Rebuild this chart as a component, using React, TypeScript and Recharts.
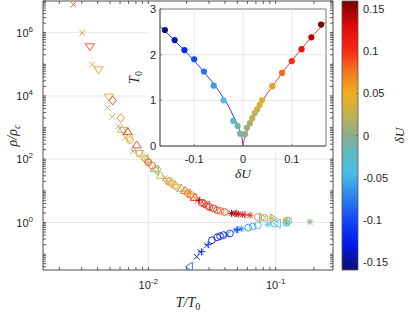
import React from 'react';
import {
  ScatterChart, Scatter, XAxis, YAxis, ReferenceLine, ReferenceArea,
  ComposedChart, Line,
} from 'recharts';

const SANS = '"Liberation Sans", Arial, Helvetica, sans-serif';
const SERIF = '"Liberation Serif", "Times New Roman", serif';
const AX = '#3a3a3a';
const GRID = '#e2e2e2';
const TXT = '#262626';

// ---- colour map for δU ----
const cmapStops = [-0.16, -0.13, -0.1, -0.07, -0.045, -0.02, 0, 0.02, 0.04, 0.05, 0.065, 0.08, 0.1, 0.13, 0.16];
const cmapColors = ['#10106e', '#0018ea', '#1448f8', '#2e88e8', '#48bee8', '#60b8c0', '#8aad8f', '#b8b060', '#e0b030', '#ecb020', '#f09020', '#f46a1e', '#fa2a14', '#e00a0a', '#7a0000'];

// ---- main plot data: [T/T0, rho/rho_c, δU] per marker type ----
const crossPts = [
  [0.00258, 7.7e6, 0.085], [0.00303, 9.8e5, 0.068], [0.00363, 9.8e4, 0.052],
  [0.00478, 4.3e3, 0.022], [0.00521, 2.2e3, 0.018], [0.00582, 1.1e3, 0.014],
  [0.0066, 480, 0.01], [0.0076, 180, 0.006], [0.0135, 25, 0.004], [0.0185, 11, 0.04],
  [0.0245, 5.0, 0.12], [0.0275, 3.8, 0.1],
  [0.024, 0.083, -0.13], [0.0257, 0.117, -0.12], [0.0288, 0.19, -0.115], [0.0415, 0.42, -0.12],
];
const triDownPts = [
  [0.00348, 3.7e5, 0.09], [0.00407, 6.9e4, 0.062], [0.0049, 9.5e3, 0.042],
  [0.0064, 830, 0.03], [0.0085, 160, 0.01], [0.014, 21, 0.065],
  [0.0151, 17, 0.058], [0.0168, 13, 0.035], [0.0224, 6.6, 0.05],
];
const triUpPts = [
  [0.0062, 850, 0.025], [0.0069, 720, 0.1], [0.0081, 275, 0.095], [0.0112, 50, 0.005],
  [0.0125, 30, 0.03], [0.0182, 11.7, 0.012], [0.0195, 10, 0.08], [0.0232, 6.0, 0.1],
];
const triLeftPts = [
  [0.0212, 0.04, -0.085], [0.0204, 8.1, 0.065], [0.0288, 3.4, 0.11], [0.0115, 44, 0.01],
  [0.0095, 100, 0.01], [0.104, 0.93, -0.04],
];
const triRightPts = [
  [0.095, 1.33, -0.035], [0.078, 1.42, -0.02],
];
const diamondPts = [
  [0.00525, 7.2e3, 0.09], [0.00607, 2.0e3, 0.07], [0.0071, 470, 0.05],
  [0.0094, 105, 0.05], [0.0098, 92, 0.035], [0.0118, 48, 0.02], [0.0145, 20, 0.01],
  [0.0155, 17.5, 0.04], [0.0204, 8.4, 0.07], [0.0275, 3.9, 0.11],
];
const circlePts = [
  [0.0072, 400, 0.045], [0.0085, 150, 0.04], [0.01, 80, 0.09], [0.0107, 64, 0.08], [0.0162, 14.5, 0.06],
  [0.0215, 7.5, 0.075], [0.0263, 4.2, 0.1], [0.0302, 3.1, 0.11], [0.0325, 2.8, 0.12],
  [0.0347, 2.45, 0.1], [0.037, 2.3, 0.08], [0.0398, 2.14, 0.09],
  [0.0724, 1.5, 0.07], [0.082, 1.4, 0.07], [0.122, 1.17, 0.04], [0.126, 1.12, -0.035],
  [0.0316, 0.275, -0.14], [0.0347, 0.34, -0.135], [0.0366, 0.37, -0.13], [0.0389, 0.4, -0.125], [0.0437, 0.45, -0.11],
  [0.061, 0.69, -0.065], [0.066, 0.75, -0.06], [0.0724, 0.82, -0.05], [0.098, 0.92, -0.045], [0.121, 0.98, -0.04],
];
const asteriskPts = [
  [0.045, 1.95, 0.155], [0.0479, 1.9, 0.15], [0.051, 1.85, 0.14], [0.055, 1.78, 0.12], [0.063, 1.7, 0.11],
  [0.0933, 1.35, 0.045], [0.12, 1.15, 0.045], [0.186, 1.05, 0.0],
  [0.049, 0.575, -0.09], [0.0537, 0.63, -0.08], [0.087, 0.88, -0.045], [0.122, 0.975, -0.04],
];
const plusPts = [
  [0.0251, 5.1, 0.15], [0.049, 1.95, 0.13], [0.0575, 1.75, 0.12],
  [0.0262, 0.12, -0.13], [0.0295, 0.2, -0.12], [0.05, 0.6, -0.1],
];

// ---- inset data ----
const insetU = [-0.16, -0.14, -0.12, -0.1, -0.08, -0.06, -0.04, -0.02, -0.011, -0.006, 0.004, 0.008, 0.014, 0.019, 0.024, 0.029, 0.034, 0.039, 0.06, 0.08, 0.1, 0.12, 0.14, 0.16];
const insetT0 = [2.54, 2.32, 2.1, 1.9, 1.63, 1.32, 1.0, 0.55, 0.44, 0.27, 0.26, 0.4, 0.5, 0.61, 0.72, 0.8, 0.9, 1.0, 1.31, 1.6, 1.86, 2.12, 2.38, 2.66];
const fitNegU = [-0.17, -0.16, -0.14, -0.12, -0.1, -0.08, -0.06, -0.04, -0.03, -0.02, -0.01, -0.005, -0.002, 0];
const fitNegT = [2.62, 2.52, 2.31, 2.09, 1.87, 1.62, 1.36, 1.05, 0.88, 0.66, 0.43, 0.29, 0.17, 0];
const fitPosU = [0, 0.002, 0.005, 0.01, 0.02, 0.03, 0.04, 0.06, 0.08, 0.1, 0.12, 0.14, 0.17];
const fitPosT = [0, 0.12, 0.22, 0.36, 0.6, 0.8, 0.99, 1.3, 1.6, 1.87, 2.13, 2.38, 2.72];

// ---- axes ----
const X_DOMAIN = [0.00149, 0.282];
const Y_DOMAIN = [0.0316, 1e7];
const xMajor = [0.01, 0.1];
const yMajor = [1, 100, 1e4, 1e6];
const insetXTicks = [-0.1, 0, 0.1];
const insetYTicks = [0, 1, 2, 3];
const cbTicks = [-0.15, -0.1, -0.05, 0, 0.05, 0.1, 0.15];
const CB_DOMAIN = [-0.16, 0.16];

function logTicks(lo: number, hi: number) {
  const out: number[] = [];
  for (let d = -4; d <= 8; d++) {
    for (let k = 1; k <= 9; k++) {
      const v = k * Math.pow(10, d);
      if (v >= lo * 0.9999 && v <= hi * 1.0001) out.push(v);
    }
  }
  return out;
}
const xTicksAll = logTicks(X_DOMAIN[0], X_DOMAIN[1]);
const yTicksAll = logTicks(Y_DOMAIN[0], Y_DOMAIN[1]);
const isIn = (list: number[], v: number) => list.some((m) => Math.abs(m - v) / Math.abs(m) < 1e-6);

function hexToRgb(h: string) {
  return [parseInt(h.slice(1, 3), 16), parseInt(h.slice(3, 5), 16), parseInt(h.slice(5, 7), 16)];
}
function colorOf(u: number) {
  if (u <= cmapStops[0]) return cmapColors[0];
  for (let i = 1; i < cmapStops.length; i++) {
    if (u <= cmapStops[i]) {
      const t = (u - cmapStops[i - 1]) / (cmapStops[i] - cmapStops[i - 1]);
      const a = hexToRgb(cmapColors[i - 1]);
      const b = hexToRgb(cmapColors[i]);
      const c = a.map((v, k) => Math.round(v + (b[k] - v) * t));
      return `rgb(${c[0]},${c[1]},${c[2]})`;
    }
  }
  return cmapColors[cmapColors.length - 1];
}

const toObjs = (pts: number[][]) => pts.map(([x, y, u]) => ({ x, y, u }));

function Marker({ kind, cx, cy, color }: any) {
  const sw = 0.9;
  const common = { stroke: color, strokeWidth: sw, fill: 'none' };
  if (cx == null || cy == null) return <g />;
  switch (kind) {
    case 'x': {
      const a = 2.9;
      return <path d={`M${cx - a},${cy - a}L${cx + a},${cy + a}M${cx - a},${cy + a}L${cx + a},${cy - a}`} {...common} />;
    }
    case '+': {
      const a = 3.6;
      return <path d={`M${cx - a},${cy}L${cx + a},${cy}M${cx},${cy - a}L${cx},${cy + a}`} {...common} />;
    }
    case '*': {
      const a = 3.4, b = 2.6;
      return <path d={`M${cx - a},${cy}L${cx + a},${cy}M${cx},${cy - a}L${cx},${cy + a}M${cx - b},${cy - b}L${cx + b},${cy + b}M${cx - b},${cy + b}L${cx + b},${cy - b}`} {...common} />;
    }
    case 'o':
      return <circle cx={cx} cy={cy} r={3.4} {...common} />;
    case 'd': {
      const h = 4.4, w = 3.6;
      return <path d={`M${cx},${cy - h}L${cx + w},${cy}L${cx},${cy + h}L${cx - w},${cy}Z`} {...common} />;
    }
    case 'tv': {
      const r = 4.6;
      return <path d={`M${cx - r},${cy - r * 0.55}L${cx + r},${cy - r * 0.55}L${cx},${cy + r * 0.95}Z`} {...common} />;
    }
    case 'tu': {
      const r = 4.6;
      return <path d={`M${cx - r},${cy + r * 0.55}L${cx + r},${cy + r * 0.55}L${cx},${cy - r * 0.95}Z`} {...common} />;
    }
    case 'tl': {
      const r = 4.6;
      return <path d={`M${cx + r * 0.55},${cy - r}L${cx + r * 0.55},${cy + r}L${cx - r * 0.95},${cy}Z`} {...common} />;
    }
    case 'tr': {
      const r = 4.6;
      return <path d={`M${cx - r * 0.55},${cy - r}L${cx - r * 0.55},${cy + r}L${cx + r * 0.95},${cy}Z`} {...common} />;
    }
    default:
      return <g />;
  }
}

const series = [
  { kind: 'x', pts: crossPts },
  { kind: 'tv', pts: triDownPts },
  { kind: 'tu', pts: triUpPts },
  { kind: 'tl', pts: triLeftPts },
  { kind: 'tr', pts: triRightPts },
  { kind: 'd', pts: diamondPts },
  { kind: 'o', pts: circlePts },
  { kind: '*', pts: asteriskPts },
  { kind: '+', pts: plusPts },
];

// ---- tick renderers ----
const TICK = 3;
const XTickBottom = (p: any) => {
  const { x, y, payload } = p;
  const v = payload.value;
  const major = isIn(xMajor, v);
  return (
    <g>
      <line x1={x} y1={y} x2={x} y2={y - TICK} stroke={AX} strokeWidth={0.8} />
      {major && (
        <text x={x} y={y + 19} textAnchor="middle" fontSize={11} fontFamily={SANS} fill={TXT}>
          <tspan>10</tspan>
          <tspan dy={-5} fontSize={8}>{String(Math.round(Math.log10(v)))}</tspan>
        </text>
      )}
    </g>
  );
};
const XTickTop = (p: any) => {
  const { x, y } = p;
  return <line x1={x} y1={y} x2={x} y2={y + TICK} stroke={AX} strokeWidth={0.8} />;
};
const YTickLeft = (p: any) => {
  const { x, y, payload } = p;
  const v = payload.value;
  const major = isIn(yMajor, v);
  return (
    <g>
      <line x1={x} y1={y} x2={x + TICK} y2={y} stroke={AX} strokeWidth={0.8} />
      {major && (
        <text x={x - 10} y={y + 4} textAnchor="end" fontSize={11} fontFamily={SANS} fill={TXT}>
          <tspan>10</tspan>
          <tspan dy={-5} fontSize={8}>{String(Math.round(Math.log10(v)))}</tspan>
        </text>
      )}
    </g>
  );
};
const YTickRight = (p: any) => {
  const { x, y } = p;
  return <line x1={x} y1={y} x2={x - TICK} y2={y} stroke={AX} strokeWidth={0.8} />;
};

const MainXLabel = (p: any) => {
  const vb = p.viewBox || { x: 0, y: 0, width: 0, height: 0 };
  return (
    <text x={vb.x + vb.width / 2} y={vb.y + 37} textAnchor="middle" fontSize={14} fontFamily={SERIF} fontStyle="italic" fill={TXT}>
      <tspan>T/T</tspan>
      <tspan dy={3} fontSize={10} fontStyle="normal">0</tspan>
    </text>
  );
};
const MainYLabel = (p: any) => {
  const vb = p.viewBox || { x: 0, y: 0, width: 0, height: 0 };
  const cx = vb.x + 9;
  const cy = vb.y + vb.height / 2;
  return (
    <text x={cx} y={cy} transform={`rotate(-90 ${cx} ${cy})`} textAnchor="middle" fontSize={14} fontFamily={SERIF} fontStyle="italic" fill={TXT}>
      <tspan>ρ/ρ</tspan>
      <tspan dy={3} fontSize={10}>c</tspan>
    </text>
  );
};

// inset ticks
const InsetXTick = (p: any) => {
  const { x, y, payload } = p;
  return (
    <g>
      <line x1={x} y1={y} x2={x} y2={y - 2} stroke="#666" strokeWidth={0.8} />
      <text x={x} y={y + 17} textAnchor="middle" fontSize={11} fontFamily={SANS} fill={TXT}>{String(payload.value)}</text>
    </g>
  );
};
const InsetYTick = (p: any) => {
  const { x, y, payload } = p;
  return (
    <g>
      <line x1={x} y1={y} x2={x + 2} y2={y} stroke="#666" strokeWidth={0.8} />
      <text x={x - 4} y={y + 4} textAnchor="end" fontSize={11} fontFamily={SANS} fill={TXT}>{String(payload.value)}</text>
    </g>
  );
};
const InsetXLabel = (p: any) => {
  const vb = p.viewBox || { x: 0, y: 0, width: 0, height: 0 };
  return (
    <text x={vb.x + vb.width / 2} y={vb.y + 32} textAnchor="middle" fontSize={13.5} fontFamily={SERIF} fontStyle="italic" fill={TXT}>δU</text>
  );
};
const InsetYLabel = (p: any) => {
  const vb = p.viewBox || { x: 0, y: 0, width: 0, height: 0 };
  const cx = vb.x + vb.width - 21;
  const cy = vb.y + vb.height / 2;
  return (
    <text x={cx} y={cy} transform={`rotate(-90 ${cx} ${cy})`} textAnchor="middle" fontSize={14} fontFamily={SERIF} fontStyle="italic" fill={TXT}>
      <tspan>T</tspan>
      <tspan dy={3} fontSize={10} fontStyle="normal">0</tspan>
    </text>
  );
};

// colorbar ticks
const CbTick = (p: any) => {
  const { x, y, payload } = p;
  return (
    <g>
      <line x1={x} y1={y} x2={x - 2} y2={y} stroke="#555" strokeWidth={0.7} />
      <text x={x + 5} y={y + 4} textAnchor="start" fontSize={11} fontFamily={SANS} fill={TXT}>{String(payload.value)}</text>
    </g>
  );
};
const CbLabel = (p: any) => {
  const vb = p.viewBox || { x: 0, y: 0, width: 0, height: 0 };
  const cx = vb.x + 46;
  const cy = vb.y + vb.height / 2;
  return (
    <text x={cx} y={cy} transform={`rotate(-90 ${cx} ${cy})`} textAnchor="middle" fontSize={13.5} fontFamily={SERIF} fontStyle="italic" fill={TXT}>δU</text>
  );
};

const insetPts = insetU.map((u, i) => ({ u, t: insetT0[i] }));
const fitNeg = fitNegU.map((u, i) => ({ u, t: fitNegT[i] }));
const fitPos = fitPosU.map((u, i) => ({ u, t: fitPosT[i] }));
const cbData = CB_DOMAIN.map((v) => ({ a: 0.5, v }));

export default function App() {
  return (
    <div style={{ position: 'fixed', left: 0, top: 0, width: 415, height: 312, background: '#fff', overflow: 'hidden' }}>
      {/* main chart */}
      <div style={{ position: 'absolute', left: 0, top: 0 }}>
        <ScatterChart width={415} height={312} margin={{ top: 0, right: 81, bottom: 12, left: 8 }}>
          <XAxis xAxisId="b" dataKey="x" type="number" scale="log" domain={X_DOMAIN} allowDataOverflow
            ticks={xTicksAll} interval={0} tickSize={0} tickMargin={0} tickLine={false}
            tick={<XTickBottom />} height={30} axisLine={{ stroke: AX, strokeWidth: 0.9 }} label={<MainXLabel />} />
          <XAxis xAxisId="t" orientation="top" dataKey="x" type="number" scale="log" domain={X_DOMAIN} allowDataOverflow
            ticks={xTicksAll} interval={0} tickSize={0} tickMargin={0} tickLine={false}
            tick={<XTickTop />} height={1} axisLine={{ stroke: AX, strokeWidth: 0.9 }} />
          <YAxis yAxisId="l" dataKey="y" type="number" scale="log" domain={Y_DOMAIN} allowDataOverflow
            ticks={yTicksAll} interval={0} tickSize={0} tickMargin={0} tickLine={false}
            tick={<YTickLeft />} width={35} axisLine={{ stroke: AX, strokeWidth: 0.9 }} label={<MainYLabel />} />
          <YAxis yAxisId="r" orientation="right" dataKey="y" type="number" scale="log" domain={Y_DOMAIN} allowDataOverflow
            ticks={yTicksAll} interval={0} tickSize={0} tickMargin={0} tickLine={false}
            tick={<YTickRight />} width={1} axisLine={{ stroke: AX, strokeWidth: 0.9 }} />
          {xMajor.map((v) => (
            <ReferenceLine key={'gx' + v} xAxisId="b" yAxisId="l" x={v} stroke={GRID} strokeWidth={0.8} />
          ))}
          {yMajor.map((v) => (
            <ReferenceLine key={'gy' + v} xAxisId="b" yAxisId="l" y={v} stroke={GRID} strokeWidth={0.8} />
          ))}
          {series.map((s) => (
            <Scatter key={s.kind} xAxisId="b" yAxisId="l" data={toObjs(s.pts)} isAnimationActive={false}
              shape={(p: any) => <Marker kind={s.kind} cx={p.cx} cy={p.cy} color={colorOf(p.payload ? p.payload.u : 0)} />} />
          ))}
        </ScatterChart>
      </div>

      {/* white patch behind inset */}
      <div style={{ position: 'absolute', left: 147, top: 4, width: 180, height: 148, background: '#fff' }} />

      {/* inset */}
      <div style={{ position: 'absolute', left: 110, top: 0 }}>
        <ComposedChart width={230} height={190} margin={{ top: 9, right: 14, bottom: 19, left: 20 }}>
          <XAxis dataKey="u" type="number" domain={[-0.17, 0.17]} allowDataOverflow ticks={insetXTicks} interval={0}
            tickSize={0} tickMargin={0} tickLine={false} tick={<InsetXTick />} height={25}
            axisLine={{ stroke: '#666', strokeWidth: 0.9 }} label={<InsetXLabel />} />
          <YAxis dataKey="t" type="number" domain={[0, 3]} allowDataOverflow ticks={insetYTicks} interval={0}
            tickSize={0} tickMargin={0} tickLine={false} tick={<InsetYTick />} width={30}
            axisLine={{ stroke: '#666', strokeWidth: 0.9 }} label={<InsetYLabel />} />
          {insetXTicks.map((v) => (
            <ReferenceLine key={'ix' + v} x={v} stroke={GRID} strokeWidth={0.8} />
          ))}
          {[1, 2].map((v) => (
            <ReferenceLine key={'iy' + v} y={v} stroke={GRID} strokeWidth={0.8} />
          ))}
          <ReferenceArea x1={-0.17} x2={0.17} y1={0} y2={3} fill="none" stroke="#666" strokeWidth={0.9} ifOverflow="visible" />
          <Line data={fitNeg} dataKey="t" type="monotone" stroke="#1f3cff" strokeWidth={1} dot={false} isAnimationActive={false} />
          <Line data={fitPos} dataKey="t" type="monotone" stroke="#ff3a2a" strokeWidth={1} dot={false} isAnimationActive={false} />
          <Scatter data={insetPts} dataKey="t" isAnimationActive={false}
            shape={(p: any) => <circle cx={p.cx} cy={p.cy} r={3.1} fill={colorOf(p.payload ? p.payload.u : 0)} stroke="none" />} />
        </ComposedChart>
      </div>

      {/* colorbar */}
      <div style={{ position: 'absolute', left: 330, top: 0 }}>
        <ComposedChart width={85} height={312} data={cbData} margin={{ top: 1, right: 17, bottom: 42, left: 12 }}>
          <defs>
            <linearGradient id="cbGrad" x1="0" y1="0" x2="0" y2="1">
              {cmapStops.map((s, i) => (
                <stop key={i} offset={(CB_DOMAIN[1] - s) / (CB_DOMAIN[1] - CB_DOMAIN[0])} stopColor={cmapColors[i]} />
              )).reverse()}
            </linearGradient>
          </defs>
          <XAxis dataKey="a" type="number" domain={[0, 1]} hide />
          <YAxis dataKey="v" yAxisId={0} orientation="right" type="number" domain={CB_DOMAIN} allowDataOverflow ticks={cbTicks}
            interval={0} tickSize={0} tickMargin={0} tickLine={false} tick={<CbTick />} width={40}
            axisLine={false} label={<CbLabel />} />
          <ReferenceArea x1={0} x2={1} y1={CB_DOMAIN[0]} y2={CB_DOMAIN[1]} fill="url(#cbGrad)" fillOpacity={1} stroke="#555" strokeWidth={0.8} />
        </ComposedChart>
      </div>
    </div>
  );
}
